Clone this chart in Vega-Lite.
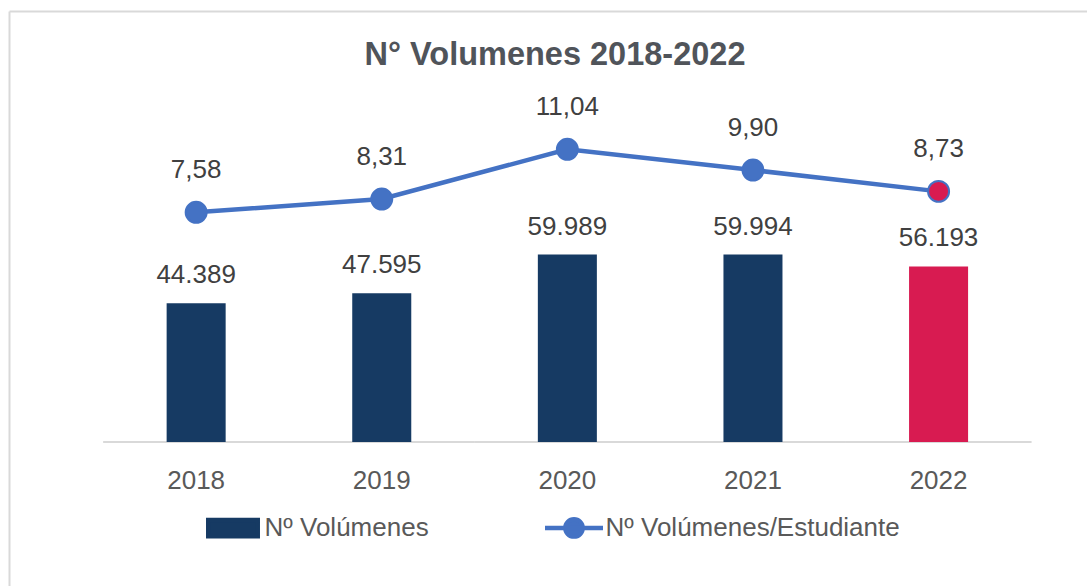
{
  "$schema": "https://vega.github.io/schema/vega-lite/v6.json",
  "width": 1078,
  "height": 575,
  "autosize": {"type": "none"},
  "padding": {"left": 9, "top": 11, "right": 0, "bottom": 0},
  "background": "white",
  "config": {
    "locale": {"number": {"decimal": ",", "thousands": ".", "grouping": [3], "currency": ["", " €"]}},
    "font": "Liberation Sans",
    "view": {"stroke": null},
    "axis": {"grid": false}
  },
  "title": {
    "text": "N° Volumenes 2018-2022",
    "fontSize": 32.5,
    "fontWeight": "bold",
    "color": "#50545a",
    "anchor": "middle",
    "frame": "group",
    "offset": -60,
    "dx": 7
  },
  "data": {
    "values": [
      {"year": "2018", "volumenes": 44389, "ratio": 7.58},
      {"year": "2019", "volumenes": 47595, "ratio": 8.31},
      {"year": "2020", "volumenes": 59989, "ratio": 11.04},
      {"year": "2021", "volumenes": 59994, "ratio": 9.90},
      {"year": "2022", "volumenes": 56193, "ratio": 8.73}
    ]
  },
  "layer": [
    {
      "encoding": {
        "x": {
          "field": "year",
          "type": "nominal",
          "scale": {"type": "band", "paddingInner": 0.682, "paddingOuter": 0.745, "align": 0.57},
          "axis": {
            "orient": "bottom",
            "title": null,
            "domain": false,
            "ticks": false,
            "tickSize": 0,
            "labelPadding": 0,
            "offset": -119,
            "labelFontSize": 26,
            "labelColor": "#595959",
            "labelAngle": 0
          }
        },
        "y": {
          "field": "volumenes",
          "type": "quantitative",
          "scale": {"domain": [-46080, 137920], "nice": false, "zero": false},
          "axis": {
            "orient": "left",
            "title": null,
            "labels": false,
            "ticks": false,
            "grid": false,
            "domainColor": "#d9d9d9",
            "domainWidth": 2
          }
        }
      },
      "layer": [
        {
          "mark": {"type": "tick", "color": "#d9d9d9", "opacity": 1, "size": 186, "thickness": 2},
          "encoding": {
            "y": {"datum": 0, "type": "quantitative"}
          }
        },
        {
          "mark": {"type": "bar"},
          "encoding": {
            "y2": {"datum": 0},
            "color": {
              "condition": {"test": "datum.year === '2022'", "value": "#d81b51"},
              "datum": "Nº Volúmenes",
              "type": "nominal",
              "scale": {
                "domain": ["Nº Volúmenes", "Nº Volúmenes/Estudiante"],
                "range": ["#163a63", "#4472c4"]
              },
              "legend": {
                "title": null,
                "orient": "none",
                "legendX": 192.5,
                "legendY": 485,
                "direction": "horizontal",
                "columns": 2,
                "columnPadding": 106,
                "padding": 0,
                "labelFontSize": 26,
                "labelColor": "#595959",
                "labelOffset": 0,
                "labelLimit": 500,
                "symbolSize": 3364,
                "symbolStrokeWidth": 4.5,
                "encode": {
                  "symbols": {
                    "update": {
                      "shape": {"signal": "datum.value === 'Nº Volúmenes' ? 'M-0.853,-0.284H0.853V0.284H-0.853Z' : 'M-1,0H1M0.3,0C0.3,0.1657 0.1657,0.3 0,0.3C-0.1657,0.3 -0.3,0.1657 -0.3,0C-0.3,-0.1657 -0.1657,-0.3 0,-0.3C0.1657,-0.3 0.3,-0.1657 0.3,0Z'"},
                      "fill": {"signal": "datum.value === 'Nº Volúmenes' ? '#163a63' : '#4472c4'"},
                      "stroke": {"signal": "datum.value === 'Nº Volúmenes' ? '#163a63' : '#4472c4'"},
                      "strokeWidth": {"value": 4.5},
                      "opacity": {"value": 1},
                      "fillOpacity": {"value": 1}
                    }
                  }
                }
              }
            }
          }
        },
        {
          "mark": {"type": "text", "dy": -20, "baseline": "alphabetic", "fontSize": 26, "color": "#404040"},
          "encoding": {
            "text": {"field": "volumenes", "type": "quantitative", "format": ",d"}
          }
        }
      ]
    },
    {
      "encoding": {
        "x": {
          "field": "year",
          "type": "nominal",
          "scale": {"type": "band", "paddingInner": 0.682, "paddingOuter": 0.745, "align": 0.57},
          "axis": {
            "orient": "top",
            "title": null,
            "labels": false,
            "ticks": false,
            "domainColor": "#d9d9d9",
            "domainWidth": 2
          }
        },
        "y": {
          "field": "ratio",
          "type": "quantitative",
          "scale": {"domain": [-12.95, 18.64], "nice": false, "zero": false},
          "axis": null
        }
      },
      "layer": [
        {
          "mark": {"type": "line", "strokeWidth": 4.5},
          "encoding": {"color": {"datum": "Nº Volúmenes/Estudiante", "type": "nominal"}}
        },
        {
          "mark": {"type": "point", "filled": true, "size": 440, "stroke": "#4472c4", "strokeWidth": 2, "opacity": 1},
          "encoding": {
            "color": {
              "condition": {"test": "datum.year === '2022'", "value": "#d81b51"},
              "datum": "Nº Volúmenes/Estudiante",
              "type": "nominal"
            }
          }
        },
        {
          "mark": {"type": "text", "dy": -34, "baseline": "alphabetic", "fontSize": 26, "color": "#404040"},
          "encoding": {
            "text": {"field": "ratio", "type": "quantitative", "format": ".2f"}
          }
        }
      ]
    }
  ],
  "resolve": {"scale": {"x": "independent", "y": "independent"}}
}
